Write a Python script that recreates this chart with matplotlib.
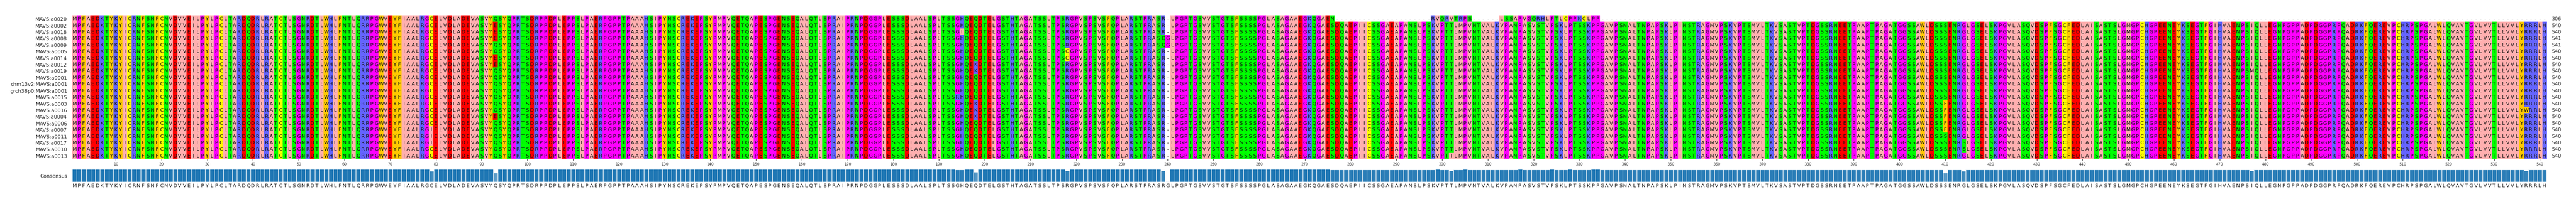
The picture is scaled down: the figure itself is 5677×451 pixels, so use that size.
import numpy as np
import matplotlib
matplotlib.use('Agg')
import matplotlib.pyplot as plt
from matplotlib.colors import ListedColormap

# Sequence names, top to bottom
names = ['MAVS:a0020', 'MAVS:a0002', 'MAVS:a0018', 'MAVS:a0008', 'MAVS:a0009', 'MAVS:a0005',
         'MAVS:a0014', 'MAVS:a0012', 'MAVS:a0019', 'MAVS:a0001', 'chm13v2:MAVS:a0001',
         'grch38p0:MAVS:a0001', 'MAVS:a0015', 'MAVS:a0003', 'MAVS:a0016', 'MAVS:a0004',
         'MAVS:a0006', 'MAVS:a0007', 'MAVS:a0011', 'MAVS:a0017', 'MAVS:a0010', 'MAVS:a0013']
lengths = [306, 540, 540, 541, 541, 540, 540, 540, 540, 540, 540,
           540, 540, 540, 540, 540, 540, 540, 540, 540, 540, 540]

# Consensus residues, columns 1..541
consensus = ('MPFAEDKTYKYICRNFSNFCNVDV'
             'VEILPYLPCLTARDQDRLRATCTLSGNRDTLWHLFNTLQRRPGWVEYFIAALR'
             'GCELVDLADEVASVYQSYQPRTSDRPPDPLEPPSLPAERPGPPTPAAAHSIPYN'
             'SCREKEPSYPMPVQETQAPESPGENSEQALQTLSPRAIPRNPDGGPLESS'
             'SDLAALSPLTSSGHQEQDTELGSTHTAGATSSLTPSRGPVSPSVSFQPLA'
             'RSTPRASRGLPGPTGSVVSTGTSFSSSSPGLASAGAAEGKQGAESDQAEP'
             'IICSSGAEAPANSLPSKVPTTLMPVNTVALKVPANPASVSTVPSKLPTSS'
             'KPPGAVPSNALTNPAPSKLPINSTRAGMVPSKVPTSMVLTKVSASTVPTD'
             'GSSRNEETPAAPTPAGATGGSSAWLDSSSENRGLGSELSKPGVLASQVDS'
             'PFSGCFEDLAISASTSLGMGPCHGPEENEYKSEGTFGIHVAENPSIQLLE'
             'GNPGPPADPDGGPRPQADRKFQEREVPCHRPSPGALWLQVAVTGVLVVTL'
             'LVVLYRRRLH')

# Differences from the consensus: (row, column, residue); '-' is a gap
changes = [(r, 240, '-') for r in range(22) if r not in (3, 4)] + [
    (3, 239, 'Q'), (4, 239, 'Q'),
    (17, 79, 'I'), (18, 79, 'I'), (19, 79, 'I'),
    (1, 93, 'E'), (2, 93, 'E'), (3, 93, 'E'), (6, 93, 'E'), (7, 93, 'E'), (15, 93, 'E'),
    (12, 194, 'R'), (2, 195, 'I'),
    (7, 198, 'K'), (8, 198, 'K'), (13, 198, 'K'), (14, 198, 'K'), (15, 198, 'K'),
    (5, 218, 'C'), (6, 218, 'C'),
    (0, 276, 'N'), (21, 302, 'I'),
    (13, 410, 'F'), (14, 410, 'F'), (15, 410, 'F'), (16, 410, 'F'), (17, 410, 'F'),
    (19, 414, 'S'), (20, 414, 'S'),
    (8, 477, 'M'), (14, 537, 'W'),
]
# first sequence: residues kept only in these column ranges
row0_kept = [(1, 276), (298, 306), (313, 334)]
row0_segments = {298: 'RVQRVTRPS', 313: 'LSSAPVGQRHLPTLCPPKCLPP'}

ncol = len(consensus)
rows = [list(consensus) for _ in names]
for r, c, aa in changes:
    rows[r][c - 1] = aa
for c in range(1, ncol + 1):
    if not any(a <= c <= b for a, b in row0_kept):
        rows[0][c - 1] = '-'
for start, seg in row0_segments.items():
    for i, aa in enumerate(seg):
        rows[0][start - 1 + i] = aa

# Zappo colours
groups = [('AILVM', '#ffafaf'), ('PG', '#ff00ff'), ('FYW', '#ffc800'), ('C', '#ffff00'),
          ('KRH', '#6464ff'), ('DE', '#ff0000'), ('STNQ', '#00ff00'), ('-', '#ffffff')]
palette = [col for _, col in groups]
index = {aa: i for i, (aas, _) in enumerate(groups) for aa in aas}
grid = np.array([[index[a] for a in row] for row in rows])

W, H = 5677, 452
fig = plt.figure(figsize=(W / 100, H / 100), dpi=100)
left, width = 159.3 / W, 5453.2 / W
ax = fig.add_axes([left, 100 / H, width, 317 / H])
ax.imshow(grid, cmap=ListedColormap(palette), vmin=-0.5, vmax=len(palette) - 0.5,
          aspect='auto', interpolation='nearest',
          extent=(0.5, ncol + 0.5, len(names) - 0.5, -0.5))
for r, row in enumerate(rows):
    for c, aa in enumerate(row):
        ax.text(c + 1, r, aa, ha='center', va='center', fontsize=8, color='#111111')
    ax.text(ncol + 1.6, r, str(lengths[r]), ha='left', va='center', fontsize=8, color='#222222')
ax.set_xlim(0.5, ncol + 0.5)
ax.set_ylim(len(names) - 0.5, -0.5)
ax.set_yticks(range(len(names)))
ax.set_yticklabels(names, fontsize=8, color='#222222')
ax.tick_params(axis='y', length=0, pad=8)
ax.set_xticks(range(10, ncol + 1, 10))
ax.tick_params(axis='x', labelsize=6, length=3, pad=2, colors='#333333')
for s in ax.spines.values():
    s.set_visible(False)

# consensus bars
freq = []
for c in range(ncol):
    col = [row[c] for row in rows]
    freq.append(col.count(consensus[c]) / len(col))
cax = fig.add_axes([left, 49 / H, width, 28 / H])
xs = np.arange(1, ncol + 1)
for x, f in zip(xs, freq):
    cax.bar(x, f, width=1, color='#1f77b4', alpha=f, edgecolor='none')
cax.bar(xs, freq, width=1, color='none', edgecolor='white', linewidth=0.8)
for x, aa in zip(xs, consensus):
    cax.text(x, -0.3, aa, ha='center', va='center', fontsize=8, color='#222222', clip_on=False)
cax.set_xlim(0.5, ncol + 0.5)
cax.set_ylim(0, 1)
cax.set_xticks([])
cax.set_yticks([0.5])
cax.set_yticklabels(['Consensus'], fontsize=8, color='#222222')
cax.tick_params(axis='y', length=0, pad=8)
for s in cax.spines.values():
    s.set_visible(False)

fig.savefig('out.png', dpi=100)
